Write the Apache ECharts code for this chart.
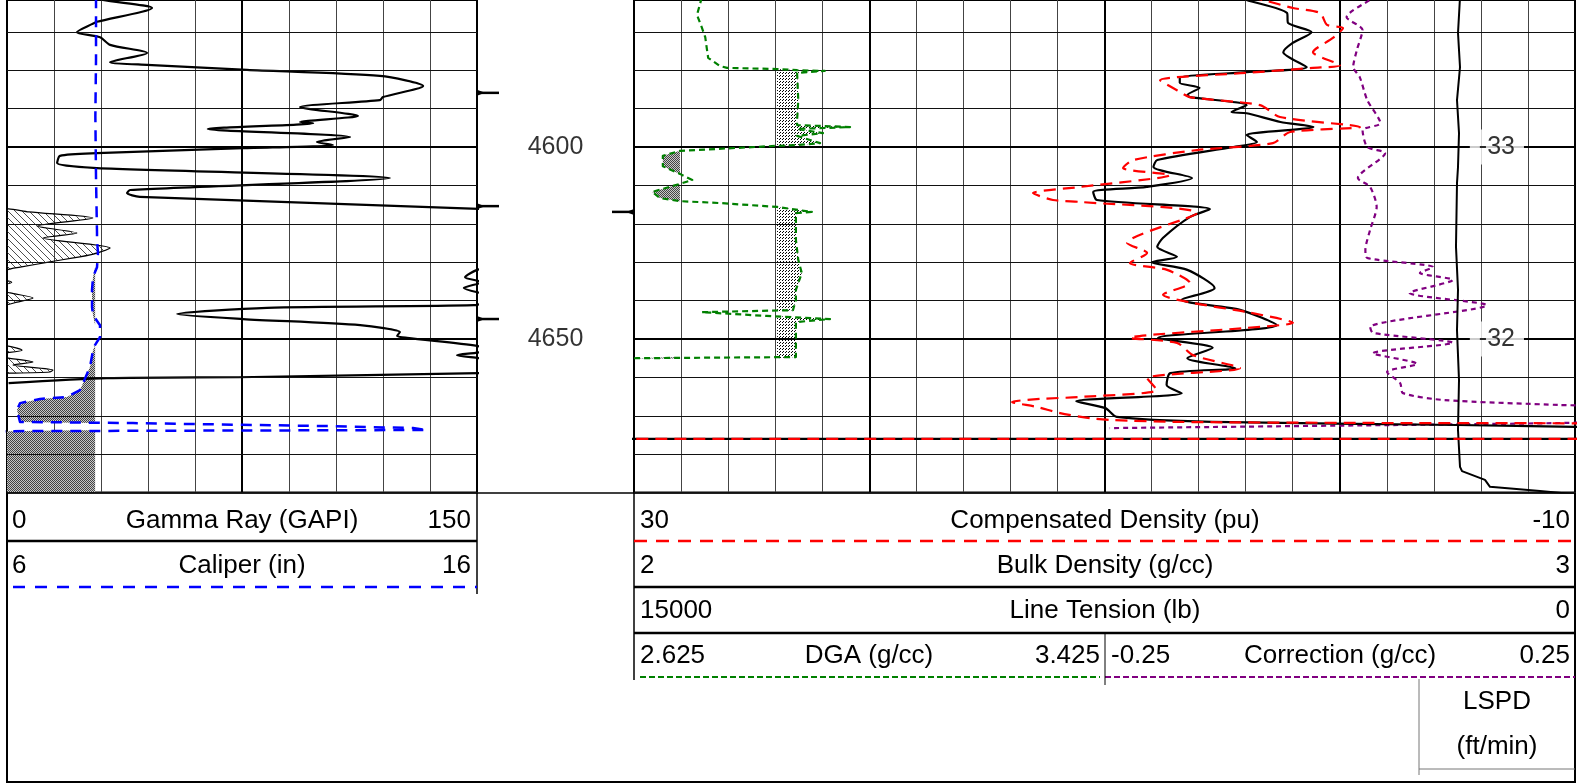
<!DOCTYPE html>
<html><head><meta charset="utf-8">
<script src="https://cdn.jsdelivr.net/npm/echarts/dist/echarts.min.js"></script>
<style>html,body{margin:0;padding:0;background:#fff;}#c{width:1592px;height:784px;}</style>
</head><body><div id="c"></div>
<script>
// ---------- DATA (depth ft, value) ----------
const gammaRay = [
[4561.0,29],[4561.7,30.6],[4563.8,46.3],[4567.4,28.7],[4568.0,27.1],[4570.1,22.3],[4571.4,29.7],[4573.4,32.9],
[4575.5,44.7],[4577.9,32.9],[4578.6,44.7],[4579.9,76.6],[4581.5,119.0],[4584.1,132.8],[4587.0,120.0],[4587.8,119.0],
[4589.6,93.5],[4591.9,112.0],[4593.5,93.5],[4593.8,97.7],[4595.3,64.1],[4597.4,109.5],[4598.7,98.9],[4599.5,104.0],
[4600.3,75.3],[4601.6,28.7],[4602.3,16.9],[4604.2,16.0],[4605.5,28.7],[4608.1,122.2],[4611.2,39.3],[4612.0,38.3],
[4613.0,42.4],[4616.1,150.5],[4616.9,157],[4618.5,177.4],[4620.6,159.6],[4622.4,172.3],[4623.7,161.5],[4626.3,182.9],
[4628.1,176.5],[4629.9,163.7],[4631.3,154.2],[4632.0,150.0],[4633.9,146.2],[4635.2,151.5],[4636.7,145.8],[4638.0,151.0],
[4639.3,158.3],[4640.4,153.2],[4641.2,149.0],[4641.9,83.0],[4643.5,54.3],[4644.8,75.3],[4646.4,112.7],[4648.2,125.4],
[4649.2,124.5],[4649.7,127.7],[4651.8,150.0],[4652.9,154.8],[4653.6,149.5],[4654.2,143.6],[4655.0,150.5],[4656.0,158.3],
[4656.8,151.9],[4658.1,164.7],[4658.6,163.7],[4658.9,151],[4659.9,78.5],[4660.2,31.9],[4661.5,0.5]
];
const caliper = [
[4561.0,7.894],[4577.0,7.894],[4592.0,7.88],[4608.0,7.894],[4622.4,7.915],[4624.2,7.915],[4627.6,7.936],[4631.3,7.915],
[4633.9,7.830],[4637.2,7.809],[4641.7,7.809],[4643.8,7.830],[4646.4,7.979],[4649.5,7.979],[4651.6,7.872],[4652.9,7.830],
[4657.3,7.766],[4661.5,7.617],[4663.3,7.553],[4665.1,7.277],[4665.6,6.702],[4666.7,6.277],[4668.5,6.213],[4671.6,6.277],
[4671.9,8.681],[4672.7,12.936],[4673.2,14.638],[4673.7,14.936],[4674.0,6.021],[4674.3,5.5],[4691,5.5]
];
const bitSize = 7.875;
const dga = [
[4561.0,2.739],[4561.7,2.739],[4565.6,2.732],[4568.8,2.740],[4571.4,2.746],[4574.7,2.749],[4576.8,2.751],[4578.9,2.771],
[4579.4,2.783],[4579.7,2.868],[4580.0,2.902],[4580.2,2.949],[4580.7,2.902],[4587.8,2.904],[4593.0,2.902],[4594.3,2.902],
[4594.8,2.992],[4595.3,2.902],[4596.4,2.946],[4597.1,2.902],[4599.0,2.941],[4599.5,2.902],[4599.7,2.868],[4601.0,2.703],
[4602.3,2.674],[4605.0,2.674],[4607.0,2.703],[4608.6,2.724],[4609.6,2.703],[4611.7,2.656],[4613.3,2.669],[4614.1,2.703],
[4614.6,2.771],[4615.6,2.868],[4616.9,2.927],[4617.2,2.900],[4624.2,2.900],[4629.4,2.904],[4632.8,2.910],[4637.2,2.900],
[4639.8,2.900],[4642.5,2.895],[4643.0,2.740],[4644.0,2.850],[4644.8,2.958],[4645.6,2.900],[4654.7,2.900],[4655.0,2.630],[4655.1,2.60]
];
const dgaLowCut = 2.703;
const dgaHighCut = 2.868;
const bulkDensity = [
[4561.0,2.645],[4561.7,2.651],[4565.1,2.694],[4567.7,2.695],[4570.1,2.720],[4572.9,2.700],[4575.3,2.690],[4579.2,2.715],
[4580.5,2.651],[4582.0,2.580],[4583.3,2.580],[4584.6,2.601],[4586.5,2.588],[4587.0,2.591],[4589.1,2.651],[4590.9,2.635],
[4591.2,2.651],[4593.5,2.687],[4594.8,2.722],[4596.9,2.651],[4598.7,2.662],[4600.0,2.637],[4603.4,2.556],[4605.2,2.552],
[4608.1,2.593],[4610.4,2.545],[4611.7,2.488],[4613.8,2.492],[4616.2,2.612],[4618.2,2.591],[4623.7,2.562],[4626.0,2.556],
[4628.6,2.577],[4630.0,2.550],[4632.0,2.588],[4636.7,2.617],[4639.8,2.582],[4642.4,2.644],[4646.4,2.683],[4649.7,2.557],
[4652.3,2.615],[4655.0,2.588],[4657.6,2.639],[4658.9,2.570],[4662.0,2.566],[4664.1,2.582],[4666.2,2.470],[4668.0,2.501],
[4670.3,2.513],[4671.6,2.615],[4672.4,2.875],[4672.9,3.0],[4673.2,3.06],[4676.0,3.06],[4676.0,1.94]
];
const compDensity = [
[4561.0,3.8],[4561.7,3.26],[4563.8,1.99],[4565.1,0.84],[4568.2,0.54],[4569.0,-0.14],[4571.6,0.29],[4575.3,1.14],
[4578.7,-0.01],[4579.4,1.14],[4580.7,3.94],[4582.6,7.64],[4585.2,6.92],[4587.0,6.37],[4589.1,3.39],[4592.2,2.54],
[4594.8,-0.86],[4596.1,2.11],[4599.0,2.84],[4600.8,6.07],[4603.4,8.79],[4605.5,9.21],[4607.3,7.22],[4610.4,11.04],
[4612.0,13.04],[4613.8,12.19],[4614.3,11.04],[4617.2,6.07],[4625.0,9.04],[4627.6,8.19],[4630.2,8.92],[4632.0,7.34],
[4635.4,6.37],[4638.5,7.51],[4640.6,6.24],[4643.0,3.94],[4645.8,1.99],[4647.1,3.94],[4649.7,8.92],[4651.0,6.92],
[4654.2,6.24],[4657.6,4.24],[4660.2,8.19],[4663.3,7.77],[4665.1,11.04],[4665.6,12.74],[4666.4,13.93],[4667.7,12.87],
[4669.3,11.89],[4670.6,10.62],[4671.1,9.64],[4671.6,6.79],[4671.9,-3.11],[4672.0,-10.5],[4676.0,-10.5],[4676.0,30.5]
];
const correction = [
[4561.0,0.04],[4561.7,0.032],[4566.2,0.007],[4569.5,0.024],[4574.7,0.018],[4579.2,0.014],[4581.8,0.021],[4587.8,0.029],
[4593.8,0.043],[4595.6,0.024],[4600.0,0.029],[4601.6,0.048],[4608.1,0.019],[4610.4,0.032],[4615.6,0.039],[4621.6,0.032],
[4626.8,0.027],[4628.9,0.029],[4631.3,0.099],[4632.8,0.085],[4634.6,0.120],[4638.0,0.074],[4641.2,0.156],[4646.9,0.032],
[4648.4,0.035],[4651.0,0.120],[4653.7,0.035],[4656.5,0.082],[4658.6,0.050],[4661.5,0.064],[4664.1,0.067],[4665.9,0.111],
[4667.2,0.234],[4667.5,0.26],[4671.6,0.26],[4671.8,0.25],[4672.1,0.170],[4673.2,-0.245]
];
const lineTension = [
[4561.0,1833],[4570.3,1865],[4579.2,1833],[4587.8,1881],[4596.4,1849],[4605.2,1865],[4609.4,1881],[4626.0,1897],
[4637.2,1865],[4647.7,1881],[4660.7,1849],[4673.7,1865],[4683.3,1833],[4684.4,1801],[4686.7,1435],[4688.5,1355],
[4689.6,558],[4690.4,0]
];
const gridDepths = [4570, 4580, 4590, 4600, 4610, 4620, 4630, 4640, 4650, 4660, 4670, 4680, 4690];
const thickDepths = [4600, 4650];
const depthLabels = [4600, 4650];
const altDepthLabels = ['-33', '-32'];
const edgeMarksLeft = [4585.9, 4615.4, 4644.8];
const edgeMarksRight = [4616.9];
const leftHeaders = [['0', 'Gamma Ray (GAPI)', '150'], ['6', 'Caliper (in)', '16']];
const rightHeaders = [['30', 'Compensated Density (pu)', '-10'], ['2', 'Bulk Density (g/cc)', '3'], ['15000', 'Line Tension (lb)', '0']];
const splitHeaders = [['2.625', 'DGA (g/cc)', '3.425'], ['-0.25', 'Correction (g/cc)', '0.25']];
const lspdHeader = ['LSPD', '(ft/min)'];

// ---------- PATTERNS ----------
function makeCanvas(w, h, draw) { const c = document.createElement('canvas'); c.width = w; c.height = h; draw(c.getContext('2d')); return c; }
const hatch = makeCanvas(7, 7, ctx => { ctx.strokeStyle = '#222'; ctx.lineWidth = 0.8; ctx.beginPath(); ctx.moveTo(-1, -1); ctx.lineTo(8, 8); ctx.stroke(); });
const checker = makeCanvas(2, 2, ctx => { ctx.fillStyle = '#c8c8c8'; ctx.fillRect(0, 0, 2, 2); ctx.fillStyle = '#444'; ctx.fillRect(0, 0, 1, 1); ctx.fillRect(1, 1, 1, 1); });
const stipple = makeCanvas(3, 3, ctx => { ctx.fillStyle = '#fff'; ctx.fillRect(0, 0, 3, 3); ctx.fillStyle = '#000'; ctx.fillRect(0, 0, 1, 1); ctx.fillRect(2, 1, 1, 1); });
const pat = c => ({ image: c, repeat: 'repeat' });

// ---------- LAYOUT ----------
const DMIN = 4561.72, DMAX = 4690, H = 492.6;
const FONT = '"Liberation Sans", Arial, sans-serif';
const FS = 26;

const grids = [
  { left: 7, top: 0, width: 470, height: H, show: true, borderColor: '#000', borderWidth: 2 },
  { left: 477, top: 0, width: 157, height: H },
  { left: 634, top: 0, width: 941, height: H, show: true, borderColor: '#000', borderWidth: 2 },
  { left: 634, top: 0, width: 471, height: H },
  { left: 1105, top: 0, width: 470, height: H }
].map(gr => Object.assign(gr, { containLabel: false, outerBoundsMode: 'none' }));
const yAxes = grids.map((g, i) => ({
  type: 'value', gridIndex: i, min: DMIN, max: DMAX, inverse: true,
  axisLine: { show: false }, axisTick: { show: false }, axisLabel: { show: false }, splitLine: { show: false }
}));
function gridX(gi, min, max, interval, color, width) {
  return { type: 'value', gridIndex: gi, min, max, interval, axisLine: { show: false }, axisTick: { show: false },
    axisLabel: { show: false }, splitLine: { show: true, lineStyle: { color, width } } };
}
function hidX(gi, min, max, inverse) { return { type: 'value', gridIndex: gi, min, max, inverse: !!inverse, show: false, splitLine: { show: false } }; }
const xAxes = [
  gridX(0, 0, 150, 15, '#444', 1),   // 0 GR + thin grid
  gridX(0, 0, 150, 75, '#000', 2),   // 1 thick middle
  hidX(0, 6, 16),                    // 2 caliper
  hidX(1, 0, 1),                     // 3 depth track
  gridX(2, 0, 20, 1, '#444', 1),     // 4 frame thin
  gridX(2, 0, 20, 5, '#000', 2),     // 5 frame thick
  hidX(2, -10, 30, true),            // 6 compensated density
  hidX(2, 2, 3),                     // 7 bulk density
  hidX(2, 0, 15000, true),           // 8 line tension
  hidX(3, 2.625, 3.425),             // 9 DGA
  hidX(4, -0.25, 0.25)               // 10 correction
];

function curve(xi, yi, pts, color, width, dash, z, f, extra) {
  return Object.assign({ type: 'line', xAxisIndex: xi, yAxisIndex: yi,
    data: pts.map(p => [f ? f(p[1]) : p[1], p[0]]), symbol: 'none', showSymbol: false, silent: true,
    lineStyle: { color, width, type: dash || 'solid', cap: 'butt', join: 'round' }, z: z || 3 }, extra || {});
}
function fill(xi, yi, pts, base, pattern) {
  return { type: 'custom', xAxisIndex: xi, yAxisIndex: yi, clip: true, silent: true, z: 1,
    data: [[base, pts[0][0]]],
    renderItem: function (params, api) {
      const poly = pts.map(p => api.coord([p[1], p[0]]));
      poly.push(api.coord([base, pts[pts.length - 1][0]]));
      poly.push(api.coord([base, pts[0][0]]));
      return { type: 'polygon', shape: { points: poly }, style: { fill: pattern } };
    } };
}
function depthLines(xi, yi) {
  const thin = gridDepths.filter(d => thickDepths.indexOf(d) < 0).map(d => ({ yAxis: d, lineStyle: { color: '#111', width: 1 } }));
  const thick = thickDepths.map(d => ({ yAxis: d, lineStyle: { color: '#000', width: 2 } }));
  return { type: 'line', xAxisIndex: xi, yAxisIndex: yi, data: [], silent: true, z: 2,
    markLine: { silent: true, symbol: ['none', 'none'], label: { show: false }, animation: false,
      lineStyle: { type: 'solid' }, data: thin.concat(thick) } };
}

const series = [
  fill(0, 0, gammaRay.map(p => [p[0], p[1] - 150]), 0, pat(hatch)),
  fill(2, 0, caliper.map(p => [p[0], Math.min(p[1], bitSize)]), bitSize, pat(checker)),
  depthLines(0, 0),
  curve(0, 0, gammaRay, '#000', 2.2, 'solid', 4, null, { smooth: 0.25 }),
  curve(0, 0, gammaRay, '#000', 1.2, 'solid', 4, v => v - 150, { smooth: 0.25 }),
  curve(2, 0, caliper, '#0000ff', 2.5, [11, 8], 5),
  {
    type: 'custom', xAxisIndex: 3, yAxisIndex: 1, silent: true, z: 4,
    data: edgeMarksLeft.map(d => [0, d]).concat(edgeMarksRight.map(d => [1, d])),
    renderItem: function (params, api) {
      const side = api.value(0); const p = api.coord([side, api.value(1)]); const dir = side === 0 ? 1 : -1;
      return { type: 'group', children: [
        { type: 'line', shape: { x1: p[0], y1: p[1], x2: p[0] + dir * 22, y2: p[1] }, style: { stroke: '#000', lineWidth: 2.5 } },
        { type: 'polygon', shape: { points: [[p[0], p[1] - 3], [p[0] + dir * 8, p[1]], [p[0], p[1] + 3]] }, style: { fill: '#000' } }
      ] };
    }
  },
  {
    type: 'scatter', xAxisIndex: 3, yAxisIndex: 1, silent: true, symbolSize: 1, itemStyle: { color: 'rgba(0,0,0,0)' },
    data: depthLabels.map(d => [0.5, d]),
    label: { show: true, position: 'inside', formatter: p => String(p.value[1]), fontSize: 25, fontFamily: FONT, color: '#000' }
  },
  fill(9, 3, dga.map(p => [p[0], Math.min(p[1], dgaLowCut)]), dgaLowCut, pat(checker)),
  fill(9, 3, dga.map(p => [p[0], Math.max(p[1], dgaHighCut)]), dgaHighCut, pat(stipple)),
  depthLines(4, 2),
  curve(9, 3, dga, '#008000', 2.2, [6, 4], 5),
  curve(10, 4, correction, '#800080', 2.2, [5, 4], 5, null, { smooth: 0.25 }),
  curve(7, 2, bulkDensity, '#000', 2.2, 'solid', 5, null, { smooth: 0.25 }),
  curve(6, 2, compDensity, '#ff0000', 2.2, [12, 7], 6, null, { smooth: 0.25 }),
  curve(8, 2, lineTension, '#000', 2, 'solid', 5),
  {
    type: 'scatter', xAxisIndex: 4, yAxisIndex: 2, silent: true, symbolSize: 1, itemStyle: { color: 'rgba(0,0,0,0)' }, z: 10,
    data: depthLabels.map((d, i) => ({ value: [18.34, d], name: altDepthLabels[i] })),
    label: { show: true, position: 'inside', formatter: p => p.name, fontSize: 25, fontFamily: FONT, color: '#000',
      backgroundColor: '#fff', padding: [5, 9] }
  }
];

// ---------- HEADER GRAPHICS ----------
function txt(t, x, y, align) {
  return { type: 'text', silent: true, style: { text: t, x, y, fill: '#000', font: FS + 'px ' + FONT, textAlign: align, textVerticalAlign: 'middle' } };
}
function ln(x1, y1, x2, y2, w, color, dash) {
  return { type: 'line', silent: true, shape: { x1, y1, x2, y2 }, style: { stroke: color || '#000', lineWidth: w, lineDash: dash || null } };
}
const g = [];
g.push(ln(7, -5, 7, 782, 2), ln(1575, -5, 1575, 782, 2), ln(6, 782, 1576, 782, 2), ln(7, 493, 1575, 493, 1.5));
g.push(ln(477, 493, 477, 594, 1.5), ln(7, 541, 477, 541, 2.5), ln(13, 587, 477, 587, 2.5, '#0000ff', [12, 10]));
const leftRowY = [521, 566];
leftHeaders.forEach((h, i) => { g.push(txt(h[0], 12, leftRowY[i], 'left'), txt(h[1], 242, leftRowY[i], 'center'), txt(h[2], 471, leftRowY[i], 'right')); });
g.push(ln(634, 493, 634, 680, 1.5), ln(634, 541, 1575, 541, 2.5, '#ff0000', [13, 9]), ln(634, 587, 1575, 587, 2.5), ln(634, 633, 1575, 633, 2.5));
g.push(ln(640, 677, 1100, 677, 2.2, '#008000', [6, 3]), ln(1105, 677, 1575, 677, 2.2, '#800080', [6, 3]), ln(1105, 633, 1105, 685, 1));
const rightRowY = [521, 566, 611];
rightHeaders.forEach((h, i) => { g.push(txt(h[0], 640, rightRowY[i], 'left'), txt(h[1], 1105, rightRowY[i], 'center'), txt(h[2], 1570, rightRowY[i], 'right')); });
g.push(txt(splitHeaders[0][0], 640, 656, 'left'), txt(splitHeaders[0][1], 869, 656, 'center'), txt(splitHeaders[0][2], 1100, 656, 'right'));
g.push(txt(splitHeaders[1][0], 1111, 656, 'left'), txt(splitHeaders[1][1], 1340, 656, 'center'), txt(splitHeaders[1][2], 1570, 656, 'right'));
g.push(ln(1419, 679, 1419, 775, 1, '#777'), ln(1419, 769, 1575, 769, 1, '#777'));
g.push(txt(lspdHeader[0], 1497, 702, 'center'), txt(lspdHeader[1], 1497, 747, 'center'));

const chart = echarts.init(document.getElementById('c'), null, { renderer: 'canvas' });
chart.setOption({
  animation: false, backgroundColor: '#fff',
  grid: grids, xAxis: xAxes, yAxis: yAxes, series: series, graphic: g
});
</script></body></html>
